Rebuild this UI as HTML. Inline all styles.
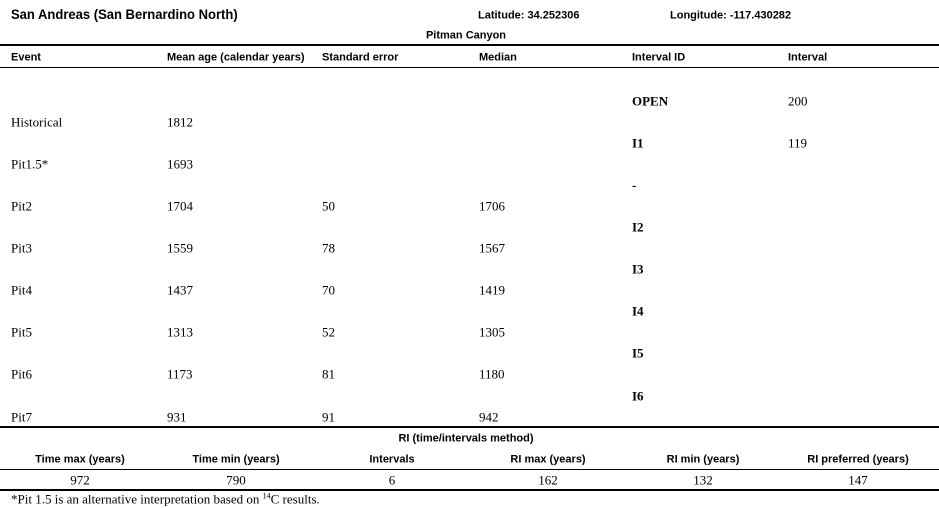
<!DOCTYPE html>
<html><head><style>
body{margin:0;width:939px;height:508px;background:#fff;position:relative;overflow:hidden;color:#000}
div{position:absolute;white-space:nowrap;line-height:1}
.s{font-family:"Liberation Sans",Arial,sans-serif;font-weight:bold;font-size:11px;transform:translateY(-50%)}
.r{font-family:"Liberation Serif",serif;font-size:13px;transform:translateY(-50%)}
.b{font-weight:bold}
.c{transform:translate(-50%,-50%)}
.l{left:0;width:939px;background:#000}
</style></head><body>
<div class="s" style="left:11px;top:14px;font-size:14px;transform:translateY(-50%) scaleX(0.93);transform-origin:left center">San Andreas (San Bernardino North)</div>
<div class="s" style="left:478px;top:16px">Latitude: 34.252306</div>
<div class="s" style="left:670px;top:16px">Longitude: -117.430282</div>
<div class="s c" style="left:466px;top:36px">Pitman Canyon</div>
<div class="l" style="top:44px;height:2px"></div>
<div class="s" style="left:11px;top:58px">Event</div>
<div class="s" style="left:167px;top:58px">Mean age (calendar years)</div>
<div class="s" style="left:322px;top:58px">Standard error</div>
<div class="s" style="left:479px;top:58px">Median</div>
<div class="s" style="left:632px;top:58px">Interval ID</div>
<div class="s" style="left:788px;top:58px">Interval</div>
<div class="l" style="top:67px;height:1px"></div>

<div class="r" style="left:11px;top:122px">Historical</div><div class="r" style="left:167px;top:122px">1812</div>
<div class="r" style="left:11px;top:164px">Pit1.5*</div><div class="r" style="left:167px;top:164px">1693</div>
<div class="r" style="left:11px;top:206px">Pit2</div><div class="r" style="left:167px;top:206px">1704</div><div class="r" style="left:322px;top:206px">50</div><div class="r" style="left:479px;top:206px">1706</div>
<div class="r" style="left:11px;top:248px">Pit3</div><div class="r" style="left:167px;top:248px">1559</div><div class="r" style="left:322px;top:248px">78</div><div class="r" style="left:479px;top:248px">1567</div>
<div class="r" style="left:11px;top:290px">Pit4</div><div class="r" style="left:167px;top:290px">1437</div><div class="r" style="left:322px;top:290px">70</div><div class="r" style="left:479px;top:290px">1419</div>
<div class="r" style="left:11px;top:332px">Pit5</div><div class="r" style="left:167px;top:332px">1313</div><div class="r" style="left:322px;top:332px">52</div><div class="r" style="left:479px;top:332px">1305</div>
<div class="r" style="left:11px;top:374px">Pit6</div><div class="r" style="left:167px;top:374px">1173</div><div class="r" style="left:322px;top:374px">81</div><div class="r" style="left:479px;top:374px">1180</div>
<div class="r" style="left:11px;top:417px">Pit7</div><div class="r" style="left:167px;top:417px">931</div><div class="r" style="left:322px;top:417px">91</div><div class="r" style="left:479px;top:417px">942</div>

<div class="r b" style="left:632px;top:101px">OPEN</div><div class="r" style="left:788px;top:101px">200</div>
<div class="r b" style="left:632px;top:143px">I1</div><div class="r" style="left:788px;top:143px">119</div>
<div class="r b" style="left:632px;top:185px">-</div>
<div class="r b" style="left:632px;top:227px">I2</div>
<div class="r b" style="left:632px;top:269px">I3</div>
<div class="r b" style="left:632px;top:311px">I4</div>
<div class="r b" style="left:632px;top:353px">I5</div>
<div class="r b" style="left:632px;top:396px">I6</div>

<div class="l" style="top:426px;height:2px"></div>
<div class="s c" style="left:466px;top:439px">RI (time/intervals method)</div>
<div class="s c" style="left:80px;top:460px">Time max (years)</div>
<div class="s c" style="left:236px;top:460px">Time min (years)</div>
<div class="s c" style="left:392px;top:460px">Intervals</div>
<div class="s c" style="left:548px;top:460px">RI max (years)</div>
<div class="s c" style="left:703px;top:460px">RI min (years)</div>
<div class="s c" style="left:858px;top:460px">RI preferred (years)</div>
<div class="l" style="top:469px;height:1px"></div>
<div class="r c" style="left:80px;top:480px">972</div>
<div class="r c" style="left:236px;top:480px">790</div>
<div class="r c" style="left:392px;top:480px">6</div>
<div class="r c" style="left:548px;top:480px">162</div>
<div class="r c" style="left:703px;top:480px">132</div>
<div class="r c" style="left:858px;top:480px">147</div>
<div class="l" style="top:489px;height:2px"></div>
<div class="r" style="left:11px;top:499px;font-size:13px">*Pit 1.5 is an alternative interpretation based on <sup style="font-size:8px">14</sup>C results.</div>
</body></html>
